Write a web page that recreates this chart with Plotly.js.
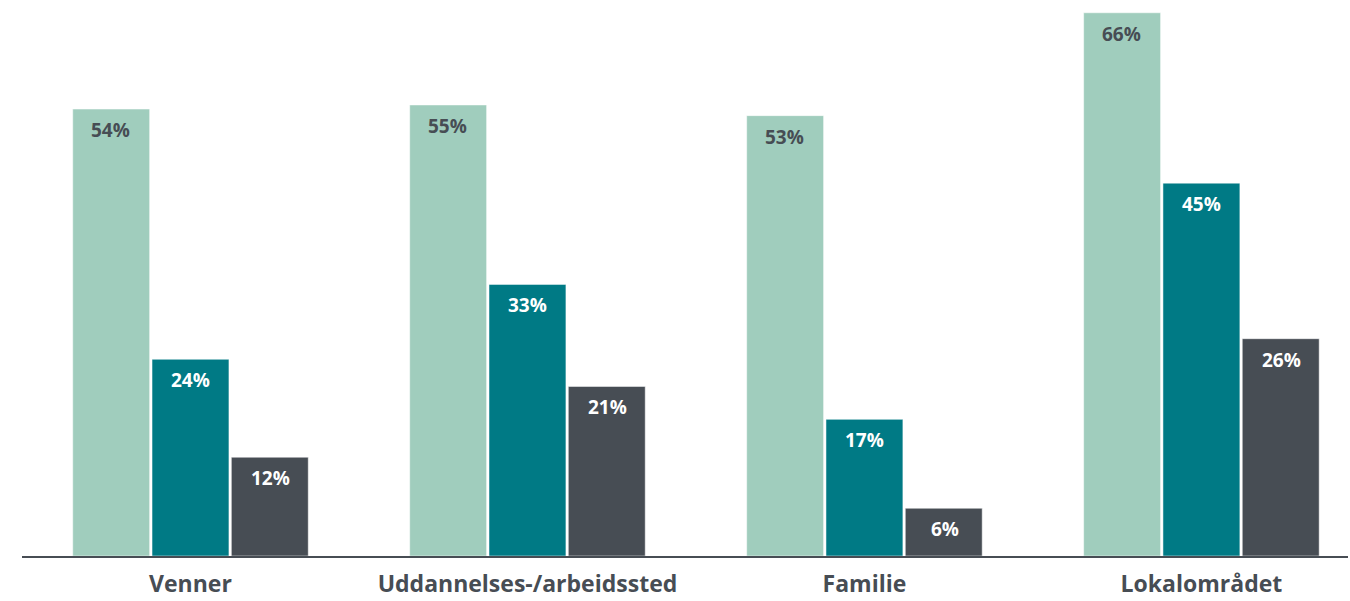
<!DOCTYPE html>
<html><head><meta charset="utf-8">
<script src="https://cdn.plot.ly/plotly-3.0.1.min.js"></script>
<style>html,body{margin:0;padding:0;background:#fff}#chart{width:1350px;height:601px}</style>
</head><body><div id="chart"></div>
<script>
const categories = ["Venner", "Uddannelses-/arbeidssted", "Familie", "Lokalområdet"];
// bar heights (percent)
const series1 = [54.3, 54.8, 53.5, 66.0];
const series2 = [23.9, 33.0, 16.6, 45.3];
const series3 = [12.0, 20.6, 5.8, 26.4];
// printed labels
const labels1 = ["54%", "55%", "53%", "66%"];
const labels2 = ["24%", "33%", "17%", "45%"];
const labels3 = ["12%", "21%", "6%", "26%"];
const seriesValues = [series1, series2, series3];
const seriesLabels = [labels1, labels2, labels3];
const colors = ["#a0cdbd", "#007a85", "#474d54"];
const textColors = ["#474d54", "#ffffff", "#ffffff"];

const traces = seriesValues.map((vals, i) => ({
  type: "bar", x: categories, y: vals,
  marker: {color: colors[i], line: {color: "#ffffff", width: 0.5}},
  hoverinfo: "skip"
}));

const annotations = [];
seriesValues.forEach((vals, i) => {
  vals.forEach((v, j) => {
    annotations.push({
      x: categories[j], y: v, xref: "x", yref: "y",
      text: seriesLabels[i][j], showarrow: false,
      xshift: (i - 1) * 80.3, yshift: -21, yanchor: "middle",
      font: {family: "Open Sans, sans-serif", size: 19, weight: 700, color: textColors[i]}
    });
  });
});

const layout = {
  width: 1350, height: 601,
  margin: {l: 22, r: 2, t: 0, b: 45},
  paper_bgcolor: "#fff", plot_bgcolor: "#fff",
  barmode: "group", bargap: 0.294, bargroupgap: 0.03,
  showlegend: false,
  xaxis: {
    type: "category", range: [-0.5, 3.435],
    showline: true, linecolor: "#474d54", linewidth: 2,
    ticks: "", showgrid: false, zeroline: false,
    tickfont: {family: "Open Sans, sans-serif", size: 23, weight: 700, color: "#474d54"},
    ticklabelstandoff: 6
  },
  yaxis: {range: [0, 67.55], visible: false, showgrid: false, zeroline: false},
  annotations: annotations
};
Plotly.newPlot("chart", traces, layout, {displayModeBar: false, staticPlot: true});
</script></body></html>
